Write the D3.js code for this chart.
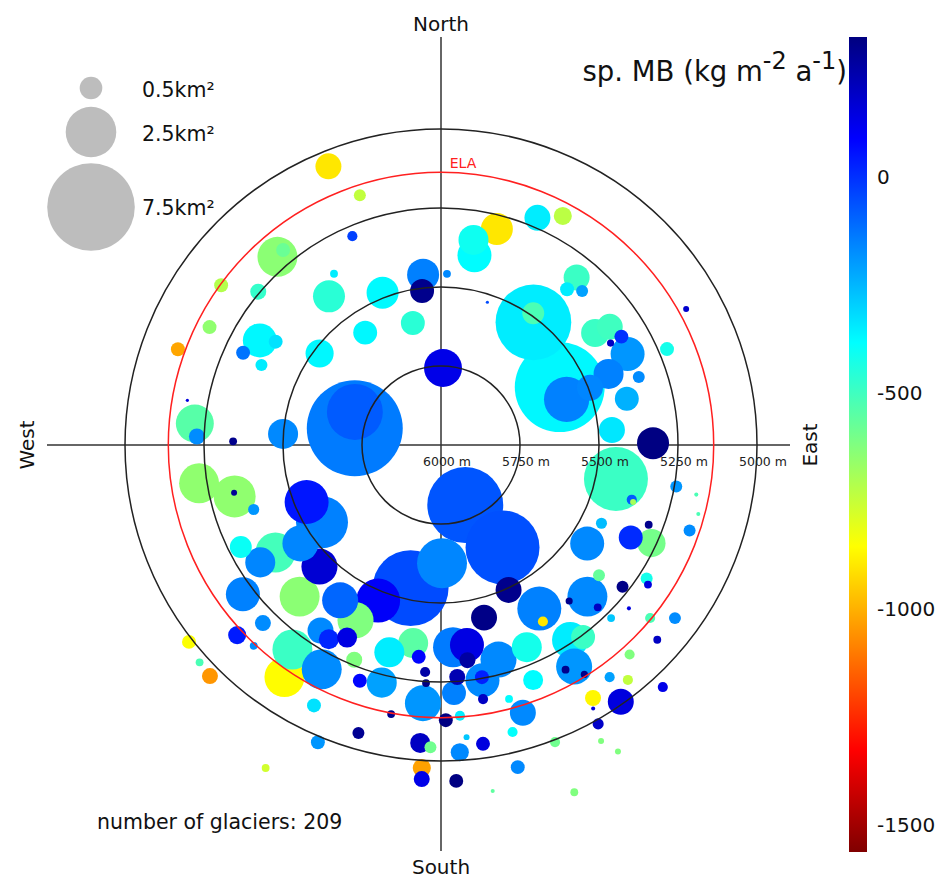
<!DOCTYPE html>
<html><head><meta charset="utf-8">
<script src="https://cdn.jsdelivr.net/npm/d3@7"></script>
<style>body{margin:0;background:#fff}svg{display:block}text{font-family:"DejaVu Sans",sans-serif}</style>
</head><body><svg id="c" width="939" height="880"></svg>
<script>
// aspect (deg, clockwise from north), median elevation (m), area (km2), specific mass balance (kg m-2 a-1)
const aspect = [338,319,321,306,310,297,290,300,302,295,294,328,323,307,342,337,14.5,9,10,23,28,354,353,2,339,347,326,18,37,35,1.5,39,42.5,39,54,55,59,59,64,61,67,64,70,69,67,71,76,85,89.5,101,106,106.5,100,101,105,111,109,116,124,116,115,129.5,123,280,275,272,271,274,261,256,257,251,281,291,158,149,179.5,192,155,149,166,150,202,225,247,237,235,237,237,243,233,225,227,223,232,228,225,214,206,202.5,208.5,223,216,213,208,210,206,206,172.6,173,176.6,165,157,188,194,186,184,183.6,199,202,194,176,184,177,170,170,170.6,165,163,158.6,166,179,176,190.5,196,184,182,176.5,175,172,183.4,183.3,177.4,166.6,171.5,159,128,124,136,140.6,136,131,135.5,129.6,126.5,143.5,146.5,149,151,148,132,138,144,141.5,137.5,149,145,150,150.6,151.6,150,159,213];
const elevation = [5049,5211,5206,5140,5245,5178,5114,5338,5383,5309,5378,5361,5411,5519,5169,5282,5294,5343,5390,5219,5179,5458,5509,5458,5484,5604,5571,5525,5514,5491,5756,5318,5339,5366,5397,5348,5334,5374,5343,5113,5223,5582,5577,5495,5424,5338,5394,5457,5329,5436,5372,5366,5244,5177,5157,5296,5168,5435,5442,5332,5265,5352,5224,5185,5218,5227,5342,5499,5225,5327,5328,5373,5722,5708,5795,5622,5626,5537,5494,5396,5437,5355,5469,5456,5538,5551,5457,5375,5318,5289,5215,5203,5118,5131,4988,4972,4966,5114,5083,4982,4837,5344,5200,5300,5196,5290,5383,5322,5362,5314,5359,5297,5305,5367,5324,5326,5280,5245,5211,5267,5225,5264,5181,5214,5254,5244,5185,5168,5114,5201,5064,5129,5141,5134,5052,5055,5043,5026,5072,5045,4976,4941,4936,4952,4893,4993,5271,5210,5333,5361,5286,5212,5232,5141,5079,5244,5260,5182,5187,5144,5079,5108,5092,5050,4961,5066,5008,5037,4987,4935,4880,4823,5414];
const area = [0.66,1.56,0.19,0.19,0.25,0.19,0.19,1.13,0.19,0.19,0.14,0.06,1.0,0.77,0.14,0.10,1.0,0.88,1.13,0.66,0.32,1.0,0.56,0.06,1.0,0.56,0.56,0.01,5.6,0.47,1.41,0.66,0.14,0.19,0.77,0.66,0.19,0.05,1.13,0.035,0.19,7.9,2.0,0.66,0.88,0.14,0.56,0.66,1.0,4.0,0.10,0.035,0.14,0.016,0.016,0.06,0.14,0.12,1.13,0.56,0.77,0.14,0.14,0.01,1.41,0.25,0.06,0.88,1.56,1.72,0.035,0.12,9.0,3.06,5.64,5.35,2.44,5.64,0.66,1.89,0.66,0.10,1.89,1.27,1.89,2.64,1.27,1.56,0.88,0.47,1.13,0.25,0.32,0.06,0.19,0.06,0.25,1.56,0.19,0.19,0.06,1.56,1.56,0.66,1.56,0.39,1.27,0.39,1.13,0.25,1.56,1.27,0.88,0.88,0.88,0.19,0.10,0.06,0.19,0.25,0.88,0.25,1.27,0.56,0.19,1.13,0.10,0.06,0.66,0.39,0.10,0.19,0.10,0.06,0.14,0.39,0.14,0.32,0.035,0.19,0.32,0.25,0.19,0.19,0.016,0.10,0.14,0.06,1.56,0.05,0.06,0.016,0.06,0.10,0.14,0.56,1.27,1.27,0.06,0.05,0.06,0.10,0.10,0.10,0.10,0.25,0.66,0.016,0.12,0.035,0.035,0.06,1.27];
const massBalance = [-900,-640,-580,-714,-480,-650,-1020,-370,-330,-125,-350,-350,-460,-370,-740,-30,-900,-410,-380,-350,-730,-148,300,-165,-375,-460,-370,-50,-350,-520,130,-490,-210,-350,-490,-500,0,200,-190,180,-420,-370,-150,-160,-150,-170,-240,-340,320,-490,-80,-690,-190,-520,-520,300,-170,-260,-165,10,-600,-570,-420,150,-545,-170,300,-165,-650,-650,280,-190,-140,-80,-70,-60,-160,-50,300,-150,310,-900,100,170,50,-150,-160,-510,-160,-400,-150,-170,40,-170,-850,-520,-1050,-860,-330,-190,-770,-640,-490,-165,-170,20,-620,140,140,260,-140,-165,-420,-550,-350,80,250,320,80,-620,-210,230,-190,-150,30,-165,200,-380,-165,-380,-390,320,-350,300,290,200,-590,-165,-280,150,-1030,130,320,-165,-560,-590,310,150,-165,300,200,150,-280,-520,-170,-490,-350,-190,300,300,200,-620,-210,-740,130,-870,150,150,190,-620,-620,-620,-100];

const rangeTicks = [6000, 5750, 5500, 5250, 5000];
const elaElevation = 5137;
const colorTicks = [0, -500, -1000, -1500];
const sizeLegend = [0.5, 2.5, 7.5];
const glacierCount = 209;

const svg = d3.select("#c");
const cx = 441, cy = 445;
const rScale = d3.scaleLinear().domain([6000, 5000]).range([0, 316]);
const sizeScale = d3.scaleSqrt().domain([0, 7.5]).range([0, 43.8]);
const mbMin = -1563, mbMax = 324;
const tScale = d3.scaleLinear().domain([mbMax, mbMin]).range([0, 1]).clamp(true);
const cl = x => Math.max(0, Math.min(1, x));
const jet = t => d3.rgb(255 * cl(1.5 - Math.abs(4 * t - 3)), 255 * cl(1.5 - Math.abs(4 * t - 2)), 255 * cl(1.5 - Math.abs(4 * t - 1))).formatHex();
const color = v => jet(tScale(v));

// axes lines
svg.append("line").attr("x1", cx).attr("x2", cx).attr("y1", 37).attr("y2", 851).attr("stroke", "#333").attr("stroke-width", 1.5);
svg.append("line").attr("x1", 47).attr("x2", 790).attr("y1", cy).attr("y2", cy).attr("stroke", "#333").attr("stroke-width", 1.5);

// points
const pts = aspect.map((a, i) => ({a, e: elevation[i], s: area[i], m: massBalance[i]})).sort((p, q) => q.s - p.s);
svg.append("g").selectAll("circle").data(pts).join("circle")
  .attr("cx", d => cx + rScale(d.e) * Math.sin(d.a * Math.PI / 180))
  .attr("cy", d => cy - rScale(d.e) * Math.cos(d.a * Math.PI / 180))
  .attr("r", d => sizeScale(d.s))
  .attr("fill", d => color(d.m));

// rings
svg.append("g").selectAll("circle").data(rangeTicks.slice(1)).join("circle")
  .attr("cx", cx).attr("cy", cy).attr("r", d => rScale(d))
  .attr("fill", "none").attr("stroke", "#222").attr("stroke-width", 1.5);
svg.append("circle").attr("cx", cx).attr("cy", cy).attr("r", rScale(elaElevation))
  .attr("fill", "none").attr("stroke", "#ff2020").attr("stroke-width", 1.5);
svg.append("text").attr("x", cx + 22).attr("y", cy - rScale(elaElevation) - 4).attr("text-anchor", "middle")
  .attr("fill", "#ff2020").attr("font-size", 14).text("ELA");
svg.append("g").selectAll("text").data(rangeTicks).join("text")
  .attr("x", d => cx + rScale(d) + 6).attr("y", cy + 21).attr("text-anchor", "middle")
  .attr("font-size", 12.5).attr("fill", "#222").text(d => d + " m");

// direction labels
svg.append("text").attr("x", cx).attr("y", 31).attr("text-anchor", "middle").attr("font-size", 20).attr("fill", "#111").text("North");
svg.append("text").attr("x", cx).attr("y", 874).attr("text-anchor", "middle").attr("font-size", 20).attr("fill", "#111").text("South");
svg.append("text").attr("transform", `translate(34,${cy}) rotate(-90)`).attr("text-anchor", "middle").attr("font-size", 20).attr("fill", "#111").text("West");
svg.append("text").attr("transform", `translate(817,${cy}) rotate(-90)`).attr("text-anchor", "middle").attr("font-size", 20).attr("fill", "#111").text("East");

// size legend
const legY = [88, 132, 207], legTY = [97, 141, 215];
sizeLegend.forEach((s, i) => {
  svg.append("circle").attr("cx", 91).attr("cy", legY[i]).attr("r", sizeScale(s)).attr("fill", "#bdbdbd");
  svg.append("text").attr("x", 142).attr("y", legTY[i]).attr("font-size", 20.5).attr("fill", "#111").text(s + "km²");
});

// glacier count
svg.append("text").attr("x", 97).attr("y", 829).attr("font-size", 20.5).attr("fill", "#111").text("number of glaciers: " + glacierCount);

// colorbar
const cbY = d3.scaleLinear().domain([mbMin, mbMax]).range([852, 37]);
const grad = svg.append("defs").append("linearGradient").attr("id", "jet").attr("x1", 0).attr("y1", 1).attr("x2", 0).attr("y2", 0);
d3.range(0, 41).forEach(i => {
  const v = mbMin + (mbMax - mbMin) * i / 40;
  grad.append("stop").attr("offset", i / 40).attr("stop-color", color(v));
});
svg.append("rect").attr("x", 849).attr("y", cbY(mbMax)).attr("width", 18).attr("height", cbY(mbMin) - cbY(mbMax)).attr("fill", "url(#jet)");
svg.append("g").selectAll("text").data(colorTicks).join("text")
  .attr("x", 877).attr("y", d => cbY(d) + 7).attr("font-size", 20).attr("fill", "#111").text(d => d);

// title
const title = svg.append("text").attr("x", 847).attr("y", 81).attr("text-anchor", "end").attr("font-size", 27.5).attr("fill", "#111");
title.append("tspan").text("sp. MB (kg m");
title.append("tspan").attr("dy", -12).attr("font-size", 24).text("-2");
title.append("tspan").attr("dy", 12).text(" a");
title.append("tspan").attr("dy", -12).attr("font-size", 24).text("-1");
title.append("tspan").attr("dy", 12).text(")");
</script></body></html>
